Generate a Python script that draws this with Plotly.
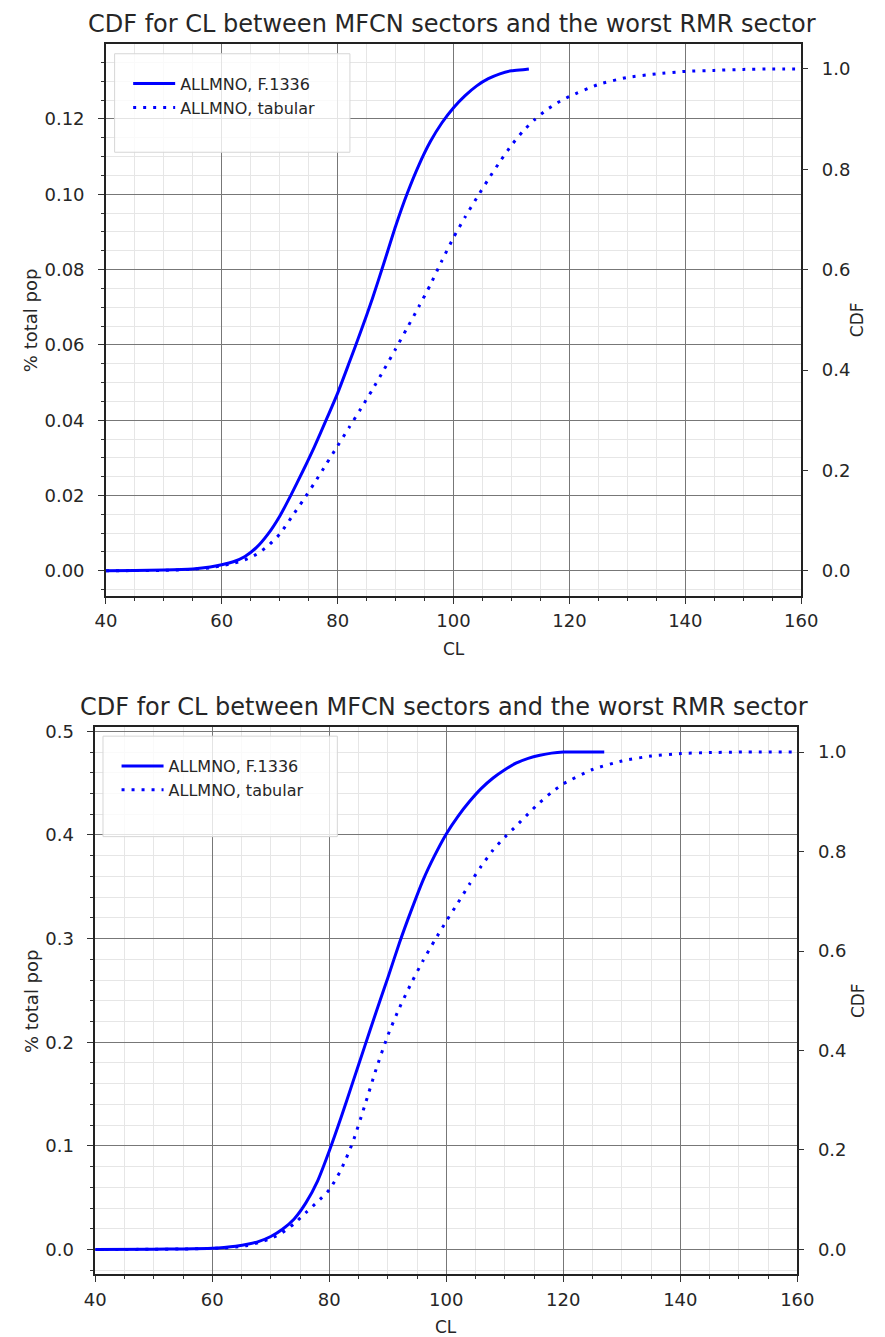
import plotly.graph_objects as go

# ---------------- data ----------------
# Upper panel: F.1336 propagation curve (left axis, % total pop)
cl_f1336_top = [40, 45, 50, 55, 58, 60, 62, 64, 66, 68, 70, 72, 74, 76, 78, 80,
                82, 84, 86, 88, 90, 92, 94, 96, 98, 100, 102, 104, 106, 108, 110,
                112, 113]
pop_f1336_top = [0.0, 0.0001, 0.0002, 0.0005, 0.0010, 0.0016, 0.0024, 0.0038,
                 0.0062, 0.0098, 0.0145, 0.0203, 0.0265, 0.0330, 0.0400, 0.0472,
                 0.0553, 0.0636, 0.0723, 0.0818, 0.0915, 0.1002, 0.1077, 0.1140,
                 0.1190, 0.1230, 0.1262, 0.1288, 0.1307, 0.1320, 0.1328, 0.1331,
                 0.1333]
# Upper panel: tabular curve (right axis, CDF)
cl_tab_top = [40, 45, 50, 55, 58, 60, 62, 64, 66, 68, 70, 72, 74, 76, 78, 80,
              82, 84, 86, 88, 90, 92, 94, 96, 98, 100, 102, 104, 106, 108, 110,
              112, 114, 116, 118, 120, 125, 130, 135, 140, 145, 150, 155, 160]
cdf_tab_top = [0.0, 0.0005, 0.001, 0.003, 0.006, 0.010, 0.015, 0.022, 0.033,
               0.050, 0.073, 0.106, 0.140, 0.175, 0.212, 0.249, 0.286, 0.323,
               0.361, 0.401, 0.442, 0.484, 0.526, 0.570, 0.618, 0.664, 0.705,
               0.743, 0.780, 0.815, 0.848, 0.876, 0.899, 0.918, 0.933, 0.945,
               0.969, 0.983, 0.990, 0.995, 0.997, 0.999, 1.0, 1.0]

# Lower panel: F.1336 propagation curve (left axis, % total pop)
cl_f1336_bot = [40, 50, 55, 60, 62, 64, 66, 68, 70, 72, 74, 76, 78, 80, 82, 84,
                86, 88, 90, 92, 94, 96, 98, 100, 102, 104, 106, 108, 110, 112,
                114, 116, 118, 120, 127]
pop_f1336_bot = [0.0, 0.0002, 0.0005, 0.0012, 0.0020, 0.0032, 0.0050, 0.0078,
                 0.0125, 0.0195, 0.0295, 0.0450, 0.0660, 0.0950, 0.1270, 0.1610,
                 0.1950, 0.2290, 0.2620, 0.2960, 0.3270, 0.3560, 0.3800, 0.4010,
                 0.4180, 0.4325, 0.4450, 0.4550, 0.4630, 0.4695, 0.4740, 0.4770,
                 0.4790, 0.4800, 0.4800]
# Lower panel: tabular curve (right axis, CDF)
cl_tab_bot = [40, 50, 55, 60, 62, 64, 66, 68, 70, 72, 74, 76, 78, 80, 82, 84,
              86, 88, 90, 92, 94, 96, 98, 100, 102, 104, 106, 108, 110, 112,
              114, 116, 118, 120, 125, 130, 135, 140, 145, 150, 160]
cdf_tab_bot = [0.0, 0.0003, 0.001, 0.002, 0.003, 0.005, 0.008, 0.014, 0.022,
               0.034, 0.052, 0.074, 0.096, 0.120, 0.160, 0.215, 0.287, 0.362,
               0.430, 0.486, 0.535, 0.580, 0.621, 0.660, 0.697, 0.735, 0.771,
               0.803, 0.829, 0.852, 0.876, 0.899, 0.919, 0.936, 0.965, 0.982,
               0.992, 0.997, 0.999, 1.0, 1.0]

x_ticks = [40, 60, 80, 100, 120, 140, 160]
pop_ticks_top = [0.00, 0.02, 0.04, 0.06, 0.08, 0.10, 0.12]
pop_ticks_bot = [0.0, 0.1, 0.2, 0.3, 0.4, 0.5]
cdf_ticks = [0.0, 0.2, 0.4, 0.6, 0.8, 1.0]

TITLE = "CDF for CL between MFCN sectors and the worst RMR sector"
NAME_F1336 = "ALLMNO, F.1336"
NAME_TAB = "ALLMNO, tabular"

# ---------------- layout geometry (pixels) ----------------
W, H = 885, 1337
top_box = dict(l=98, r=816, t=37, b=592)
bot_box = dict(l=87, r=812, t=724, b=1274)
top_leg = dict(l=107, r=350, t=47, b=146)
bot_leg = dict(l=95, r=337, t=733, b=834)


def px_x(p):
    return p / W


def px_y(p):
    return 1 - p / H


def padded(vals):
    hi = max(vals)
    lo = min(vals)
    span = hi - lo
    return [lo - 0.05 * span, hi + 0.05 * span]


FONT = "DejaVu Sans"
TXT = "#262626"
BLUE = "#0000ff"
MAJOR_GRID = "#777777"
MINOR_GRID = "#e6e6e6"

SOLID = dict(color=BLUE, width=3, shape="spline", smoothing=0.6)
DOTTED = dict(color=BLUE, width=3, dash="3px,7px", shape="spline",
              smoothing=0.6)

fig = go.Figure()

fig.add_trace(go.Scatter(x=cl_f1336_top, y=pop_f1336_top, mode="lines",
                         name=NAME_F1336, line=SOLID,
                         xaxis="x", yaxis="y", legend="legend"))
fig.add_trace(go.Scatter(x=cl_tab_top, y=cdf_tab_top, mode="lines",
                         name=NAME_TAB, line=DOTTED,
                         xaxis="x", yaxis="y2", legend="legend"))
fig.add_trace(go.Scatter(x=cl_f1336_bot, y=pop_f1336_bot, mode="lines",
                         name=NAME_F1336, line=SOLID,
                         xaxis="x2", yaxis="y3", legend="legend2"))
fig.add_trace(go.Scatter(x=cl_tab_bot, y=cdf_tab_bot, mode="lines",
                         name=NAME_TAB, line=DOTTED,
                         xaxis="x2", yaxis="y4", legend="legend2"))


def x_axis(box, anchor):
    return dict(
        domain=[px_x(box["l"]), px_x(box["r"])], anchor=anchor,
        range=[40, 160], tickvals=x_ticks, ticks="outside", ticklen=6,
        tickwidth=1.2, tickcolor="#333", showline=True, linecolor="#222",
        linewidth=1.5, mirror=True, showgrid=True, gridcolor=MAJOR_GRID,
        gridwidth=1.2, zeroline=False, ticklabelstandoff=2,
        tickfont=dict(family=FONT, size=18, color=TXT),
        minor=dict(dtick=5, tick0=40, ticks="outside", ticklen=3,
                   tickcolor="#333", showgrid=True, gridcolor=MINOR_GRID,
                   gridwidth=1),
    )


def y_left(box, anchor, rng, tv, fmt, mdt):
    return dict(
        domain=[px_y(box["b"]), px_y(box["t"])], anchor=anchor,
        range=rng, tickvals=tv, tickformat=fmt, ticks="outside", ticklen=6,
        tickwidth=1.2, tickcolor="#333", showline=True, linecolor="#222",
        linewidth=1.5, mirror=True, showgrid=True, gridcolor=MAJOR_GRID,
        gridwidth=1.2, zeroline=False, ticklabelstandoff=10,
        tickfont=dict(family=FONT, size=18, color=TXT),
        minor=dict(dtick=mdt, tick0=0, ticks="outside", ticklen=3,
                   tickcolor="#333", showgrid=True, gridcolor=MINOR_GRID,
                   gridwidth=1),
    )


def y_right(over, anchor, rng):
    return dict(
        overlaying=over, side="right", anchor=anchor, range=rng,
        tickvals=cdf_ticks, tickformat=".1f", ticks="outside", ticklen=6,
        tickwidth=1.2, tickcolor="#333", showgrid=False, zeroline=False,
        showline=False, ticklabelstandoff=10,
        tickfont=dict(family=FONT, size=18, color=TXT),
    )


def legend_cfg(box):
    return dict(
        x=px_x(box["l"] + 14), y=px_y(box["t"] + 13), xanchor="left",
        yanchor="top", bgcolor="rgba(0,0,0,0)", borderwidth=0,
        font=dict(family=FONT, size=16, color=TXT), itemwidth=42,
        tracegroupgap=0,
    )


def legend_frame(box):
    return dict(type="rect", xref="paper", yref="paper",
                x0=px_x(box["l"]), x1=px_x(box["r"]),
                y0=px_y(box["b"]), y1=px_y(box["t"]),
                line=dict(color="#d6d6d6", width=1),
                fillcolor="rgba(255,255,255,0.8)", layer="above")


def text(x, y, s, size, angle=0):
    return dict(x=px_x(x), y=px_y(y), xref="paper", yref="paper", text=s,
                showarrow=False, textangle=angle, xanchor="center",
                yanchor="middle",
                font=dict(family=FONT, size=size, color=TXT))


annotations = [
    text((top_box["l"] + top_box["r"]) / 2 - 2, 17, TITLE, 24),
    text((bot_box["l"] + bot_box["r"]) / 2 - 2, 704, TITLE, 24),
    text((top_box["l"] + top_box["r"]) / 2, 645, "CL", 17),
    text((bot_box["l"] + bot_box["r"]) / 2, 1327, "CL", 17),
    text(21, (top_box["t"] + top_box["b"]) / 2, "% total pop", 18, -90),
    text(21, (bot_box["t"] + bot_box["b"]) / 2, "% total pop", 18, -90),
    text(874, (top_box["t"] + top_box["b"]) / 2, "CDF", 17, -90),
    text(874, (bot_box["t"] + bot_box["b"]) / 2, "CDF", 17, -90),
]

fig.update_layout(
    width=W, height=H, autosize=False,
    margin=dict(l=0, r=0, t=0, b=0),
    paper_bgcolor="white", plot_bgcolor="white",
    font=dict(family=FONT, color=TXT),
    xaxis=x_axis(top_box, "y"),
    yaxis=y_left(top_box, "x", padded(pop_f1336_top), pop_ticks_top, ".2f",
                 0.005),
    yaxis2=y_right("y", "x", padded(cdf_tab_top)),
    xaxis2=x_axis(bot_box, "y3"),
    yaxis3=y_left(bot_box, "x2", padded(pop_f1336_bot), pop_ticks_bot, ".1f",
                  0.02),
    yaxis4=y_right("y3", "x2", padded(cdf_tab_bot)),
    legend=legend_cfg(top_leg),
    legend2=legend_cfg(bot_leg),
    shapes=[legend_frame(top_leg), legend_frame(bot_leg)],
    annotations=annotations,
    showlegend=True,
)

fig.write_html("out.html")
